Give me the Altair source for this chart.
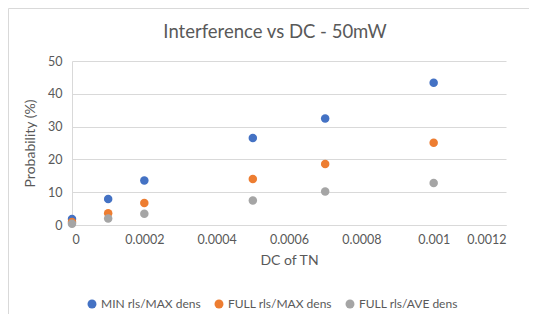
import altair as alt
import pandas as pd

dc = [0, 0.0001, 0.0002, 0.0005, 0.0007, 0.001]
min_max = [1.8, 7.9, 13.6, 26.5, 32.5, 43.4]
full_max = [0.9, 3.6, 6.7, 14.0, 18.6, 25.1]
full_ave = [0.4, 2.0, 3.4, 7.5, 10.2, 12.8]
series = ["MIN rls/MAX dens", "FULL rls/MAX dens", "FULL rls/AVE dens"]
colors = ["#4472C4", "#ED7D31", "#A5A5A5"]
title_text = "Interference vs DC - 50mW"

rows = []
for name, vals in zip(series, [min_max, full_max, full_ave]):
    for x, v in zip(dc, vals):
        rows.append({"DC": x, "P": v, "Series": name})
df = pd.DataFrame(rows)

FONT = "Lato"
GREY = "#595959"

border = alt.Chart(pd.DataFrame({"a": [0]})).mark_rect(
    fill=None, stroke="#D9D9D9", strokeWidth=1
).encode(
    x=alt.value(-63.5), x2=alt.value(480), y=alt.value(-52.5), y2=alt.value(270)
)

title = alt.Chart(pd.DataFrame({"t": [title_text]})).mark_text(
    font=FONT, fontSize=18.5, color=GREY, align="center", baseline="middle"
).encode(x=alt.value(203), y=alt.value(-29), text="t:N")

points = alt.Chart(df).mark_circle(size=72, opacity=1).encode(
    x=alt.X("DC:Q", title="DC of TN",
            scale=alt.Scale(domain=[0, 0.0012], nice=False, zero=True),
            axis=alt.Axis(values=[0, 0.0002, 0.0004, 0.0006, 0.0008, 0.001, 0.0012],
                          format=".4~f", grid=False, ticks=False,
                          domainColor="#D9D9D9", labelPadding=8,
                          labelColor=GREY, labelFontSize=12.5, labelFont=FONT,
                          titleColor=GREY, titleFontSize=14, titleFont=FONT,
                          titleFontWeight="normal", titlePadding=8)),
    y=alt.Y("P:Q", title="Probability (%)",
            scale=alt.Scale(domain=[0, 50], nice=False),
            axis=alt.Axis(values=[0, 10, 20, 30, 40, 50], grid=True,
                          gridColor="#D9D9D9", ticks=False,
                          domainColor="#D9D9D9", labelPadding=10,
                          labelColor=GREY, labelFontSize=12.5, labelFont=FONT,
                          titleColor=GREY, titleFontSize=14, titleFont=FONT,
                          titleFontWeight="normal", titlePadding=10)),
    color=alt.Color("Series:N", sort=series,
                    scale=alt.Scale(domain=series, range=colors),
                    legend=alt.Legend(title=None, orient="none", direction="horizontal",
                                      legendX=14, legendY=237,
                                      symbolType="circle", symbolSize=80,
                                      labelFont=FONT, labelFontSize=12,
                                      labelColor=GREY, columnPadding=12,
                                      labelOffset=3)),
)

chart = alt.layer(border, title, points).properties(
    width=434, height=164,
    autosize=alt.AutoSizeParams(type="none"),
    padding={"left": 64, "top": 53, "right": 23, "bottom": 89},
).configure_view(stroke=None)

chart.save("out.html", embed_options={"renderer": "svg", "actions": False})
